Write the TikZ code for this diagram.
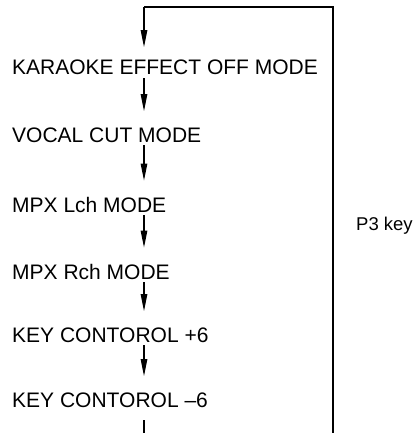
\documentclass[tikz,border=0pt]{standalone}
\usepackage{fontspec}
\setmainfont{Liberation Sans}
\usetikzlibrary{arrows.meta,
                positioning}
\tikzset{
    mode/.style={anchor=base west, inner sep=0pt, font=\fontsize{21}{25}\selectfont},
    flow/.style={line width=1.2pt, -{Triangle[length=17pt,width=6.5pt]}},
    loopline/.style={line width=1.2pt}
}

\begin{document}
\begin{tikzpicture}[x=1pt,y=-1pt]
    \useasboundingbox (0,0) rectangle (417,433);

    % the list of modes, left aligned
    \foreach \yb/\txt [count=\n] in {75/KARAOKE EFFECT OFF MODE,
                                     142/VOCAL CUT MODE,
                                     212/MPX Lch MODE,
                                     279/MPX Rch MODE,
                                     342/KEY CONTOROL +6,
                                     407/KEY CONTOROL --6}{%
      \node[mode] (m\n) at (12,\yb) {\txt};
    }

    \coordinate (topL) at (144,7);
    \coordinate (topR) at (333,7);
    \coordinate (botL) at (144,433);
    \coordinate (botR) at (333,433);

    % return loop
    \draw[loopline] (botR) -- (topR) -- (topL);
    \draw[flow, shorten >=13pt] (topL) -- (m1.north -| topL);

    \foreach \a/\b in {m1/m2, m2/m3, m3/m4, m4/m5, m5/m6}{%
      \draw[flow, shorten <=3pt, shorten >=16pt] (\a.south -| topL) -- (\b.north -| topL);
    }
    \draw[loopline, shorten <=13pt] (m6.south -| topL) -- (botL);

    \node[mode, font=\fontsize{18.5}{22}\selectfont] (key) at (356,230) {P3 key};

\end{tikzpicture}
\end{document}
